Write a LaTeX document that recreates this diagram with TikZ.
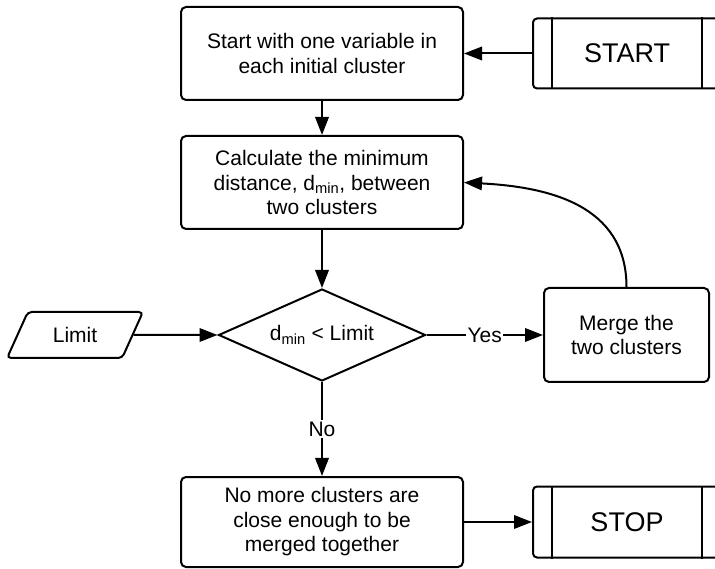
\documentclass[tikz,border=0pt]{standalone}
\usepackage{fontspec}
\setmainfont{Liberation Sans}
\usepackage{tikz}
\usetikzlibrary{shapes.geometric,arrows.meta}

\begin{document}
\begin{tikzpicture}[x=1pt, y=1pt, line width=2pt, font=\fontsize{21}{24.5}\selectfont,
		proses/.style={draw, rounded corners=5pt, minimum width=282pt, minimum height=93pt, align=center},
		terminal/.style={draw, rounded corners=4pt, minimum width=188pt, minimum height=70pt, font=\fontsize{27}{32}\selectfont},
		keputusan/.style={draw, diamond, aspect=2.25, minimum width=207pt, minimum height=92pt, inner sep=0pt},
		masukan/.style={draw, trapezium, trapezium left angle=63, trapezium right angle=117, trapezium stretches=true, rounded corners=4pt, minimum width=136pt, minimum height=46pt},
		panah/.style={-{Triangle[length=18pt,width=13.5pt]}},
		ket/.style={fill=white, inner sep=1.5pt}]
				\clip (0,0) rectangle (715,568);          % ukuran gambar

				% node utama
				\node (awal) [proses] at (322,514.5) {Start with one variable in\\each initial cluster};        % posisi acuan
				\node (hitung) [proses, below of=awal, node distance=129pt] {Calculate the minimum\\distance, d\textsubscript{min}, between\\two clusters};
				\node (uji) [keputusan, below of=hitung, node distance=152.5pt] {d\textsubscript{min} < Limit};
				\node (selesai) [proses, below of=uji, node distance=187pt, minimum height=90pt] {No more clusters are\\close enough to be\\merged together};
				\node (start) [terminal, right of=awal, node distance=305pt] {START};   % di kanan acuan
				\node (stop) [terminal, right of=selesai, node distance=305pt, minimum height=71pt] {STOP};
				\node (gabung) [proses, right of=uji, node distance=304.5pt, minimum width=165pt, minimum height=94pt] {Merge the\\two clusters};
				\node (batas) [masukan, left of=uji, node distance=247pt] {Limit};

				% garis tegak di terminal
				\foreach \n in {start,stop}{
					\draw ([xshift=20pt]\n.north west) -- ([xshift=20pt]\n.south west);
					\draw ([xshift=-20pt]\n.north east) -- ([xshift=-20pt]\n.south east);
				}

				% garis koneksi
				\draw [panah] (start) -- (awal);
				\draw [panah] (awal) -- (hitung);
				\draw [panah] (hitung) -- (uji);
				\draw [panah] (batas) -- (uji);
				\draw [panah] (uji) -- node[ket] {Yes} (gabung);
				\draw [panah] (uji) -- node[ket] {No} (selesai);
				\draw [panah] (selesai) -- (stop);
				\draw [panah] (gabung.north) to[out=90, in=-3, looseness=1.1] (hitung.east);
			\end{tikzpicture}
\end{document}
